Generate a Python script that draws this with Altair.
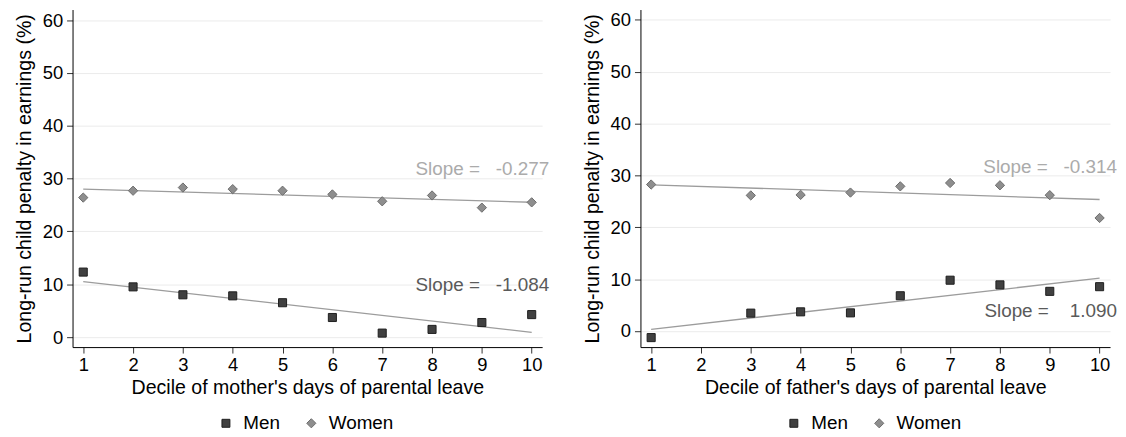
import altair as alt
import pandas as pd

FONT = "Liberation Sans"

# ---- data ----
deciles_mother = [1, 2, 3, 4, 5, 6, 7, 8, 9, 10]
men_mother = [12.3, 9.5, 8.0, 7.8, 6.5, 3.7, 0.75, 1.45, 2.75, 4.25]
women_mother = [26.4, 27.7, 28.3, 28.0, 27.7, 27.0, 25.7, 26.8, 24.5, 25.5]

deciles_father = [1, 3, 4, 5, 6, 7, 8, 9, 10]
men_father = [-1.27, 3.45, 3.7, 3.5, 6.8, 9.8, 8.9, 7.65, 8.55]
women_father = [28.25, 26.15, 26.25, 26.7, 27.9, 28.55, 28.1, 26.2, 21.8]

series_names = ["Men", "Women"]
slope_text_mother = ["Slope =\u00a0\u00a0\u00a0-1.084", "Slope =\u00a0\u00a0\u00a0-0.277"]
slope_text_father = ["Slope =\u00a0\u00a0\u00a0\u00a01.090", "Slope =\u00a0\u00a0\u00a0-0.314"]
slope_y_mother = [8.7, 30.6]
slope_y_father = [2.7, 30.5]

x_ticks = list(range(1, 11))
y_ticks = [0, 10, 20, 30, 40, 50, 60]
y_title = "Long-run child penalty in earnings (%)"

BIG_DIAMOND = "M-1.15,0L0,-1.15L1.15,0L0,1.15Z"


def panel(deciles, men, women, xtitle, ydomain, slope_text, slope_y):
    n = len(deciles)
    df = pd.DataFrame({
        "decile": deciles + deciles,
        "penalty": men + women,
        "series": ["Men"] * n + ["Women"] * n,
    })
    tdf = pd.DataFrame({
        "decile": [10.35, 10.35],
        "penalty": slope_y,
        "label": slope_text,
        "tcolor": ["#5a5a5a", "#ababab"],
    })
    x = alt.X("decile:Q",
              scale=alt.Scale(domain=[0.785, 10.21], nice=False, zero=False),
              axis=alt.Axis(values=x_ticks, title=xtitle, grid=False, format="d",
                            labelPadding=3, titlePadding=3))
    y = alt.Y("penalty:Q",
              scale=alt.Scale(domain=ydomain, nice=False, zero=False),
              axis=alt.Axis(values=y_ticks, title=y_title, grid=True,
                            labelPadding=4, titlePadding=8))
    leg = alt.Legend(title=None, orient="none", legendX=145, legendY=407,
                     direction="horizontal")
    lines = alt.Chart(df).transform_regression(
        "decile", "penalty", groupby=["series"], extent=[1, 10]
    ).mark_line(color="#9c9c9c", strokeWidth=1.3).encode(x=x, y=y, detail="series:N")
    points = alt.Chart(df).mark_point(filled=True, opacity=1, strokeWidth=1, size=66).encode(
        x=x, y=y,
        fill=alt.Fill("series:N", scale=alt.Scale(domain=series_names, range=["#404040", "#8e8e8e"]), legend=leg),
        stroke=alt.Stroke("series:N", scale=alt.Scale(domain=series_names, range=["#1e1e1e", "#6c6c6c"]), legend=leg),
        shape=alt.Shape("series:N", scale=alt.Scale(domain=series_names, range=["square", BIG_DIAMOND]), legend=leg),
    )
    texts = alt.Chart(tdf).mark_text(align="right", baseline="alphabetic", fontSize=19, font=FONT).encode(
        x=x, y=y, text="label:N", color=alt.Color("tcolor:N", scale=None)
    )
    return alt.layer(lines, points, texts).properties(width=473, height=340)


left = panel(deciles_mother, men_mother, women_mother,
             "Decile of mother's days of parental leave", [-1.9, 62],
             slope_text_mother, slope_y_mother)
right = panel(deciles_father, men_father, women_father,
              "Decile of father's days of parental leave", [-3.1, 62],
              slope_text_father, slope_y_father)

chart = alt.hconcat(left, right, spacing=32).resolve_scale(
    x="independent", y="independent", fill="independent", stroke="independent",
    shape="independent"
).resolve_legend(
    fill="independent", stroke="independent", shape="independent"
).properties(
    padding={"left": 6, "right": 0, "top": 0, "bottom": 0}
).configure_view(stroke=None).configure_axis(
    labelFont=FONT, titleFont=FONT, labelFontSize=18.5, titleFontSize=19.7,
    labelColor="#000", titleColor="#000", titleFontWeight="normal",
    domainColor="#000", domainWidth=1, tickColor="#333", tickSize=6, tickWidth=1,
    gridColor="#ebebeb", gridWidth=1
).configure_legend(
    labelFont=FONT, labelFontSize=19, labelColor="#000", symbolSize=64,
    symbolStrokeWidth=1, columnPadding=22, labelOffset=8, padding=0
)

chart.save("out.html", embed_options={"renderer": "svg", "actions": False})
